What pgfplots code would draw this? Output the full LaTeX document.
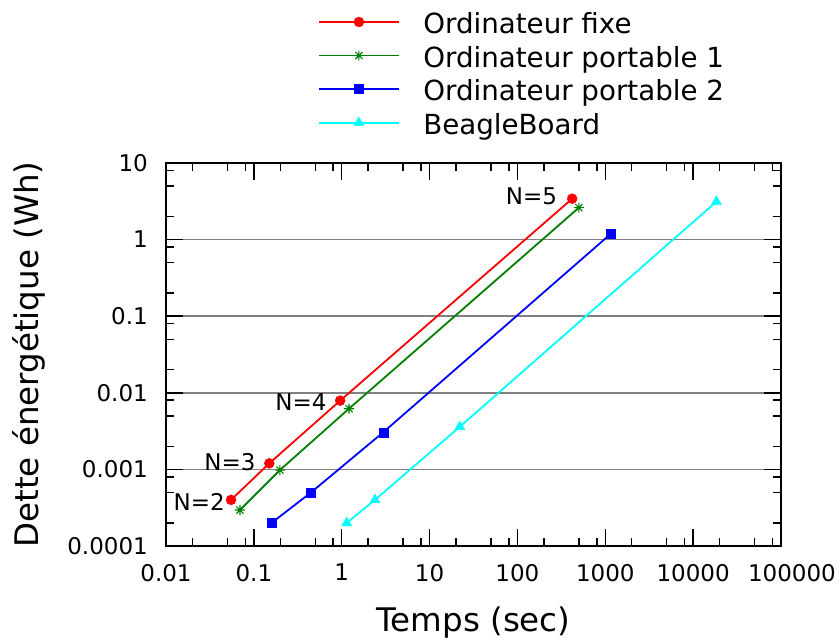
\documentclass[border=0pt]{standalone}
\usepackage{fontspec}
\setmainfont{DejaVu Sans}
\usepackage{pgfplots}
\pgfplotsset{compat=1.18}

\pgfdeclareplotmark{star8}{%
  \pgfpathmoveto{\pgfqpoint{-\pgfplotmarksize}{0pt}}%
  \pgfpathlineto{\pgfqpoint{\pgfplotmarksize}{0pt}}%
  \pgfpathmoveto{\pgfqpoint{0pt}{-\pgfplotmarksize}}%
  \pgfpathlineto{\pgfqpoint{0pt}{\pgfplotmarksize}}%
  \pgfpathmoveto{\pgfqpoint{-0.707\pgfplotmarksize}{-0.707\pgfplotmarksize}}%
  \pgfpathlineto{\pgfqpoint{0.707\pgfplotmarksize}{0.707\pgfplotmarksize}}%
  \pgfpathmoveto{\pgfqpoint{-0.707\pgfplotmarksize}{0.707\pgfplotmarksize}}%
  \pgfpathlineto{\pgfqpoint{0.707\pgfplotmarksize}{-0.707\pgfplotmarksize}}%
  \pgfusepathqstroke}

\definecolor{dgreen}{RGB}{0,128,0}
\definecolor{pred}{RGB}{255,0,0}
\definecolor{pblue}{RGB}{0,0,255}
\definecolor{pcyan}{RGB}{0,255,255}
\definecolor{pgray}{RGB}{128,128,128}

\begin{document}
\begin{tikzpicture}
\useasboundingbox (0,0) rectangle (839pt,639pt);
\begin{axis}[
  at={(166pt,93pt)}, anchor=south west,
  scale only axis, width=615pt, height=383pt,
  xmode=log, ymode=log,
  xmin=0.01, xmax=100000, ymin=0.0001, ymax=10,
  clip=false,
  /pgf/number format/assume math mode=true,
  xtick={0.01,0.1,1,10,100,1000,10000,100000},
  xticklabels={\textrm{0.01},\textrm{0.1},\textrm{1},\textrm{10},\textrm{100},\textrm{1000},\textrm{10000},\textrm{\hspace*{22pt}100000}},
  ytick={0.0001,0.001,0.01,0.1,1,10},
  yticklabels={\textrm{0.0001},\textrm{0.001},\textrm{0.01},\textrm{0.1},\textrm{1},\textrm{10}},
  minor xtick={0.02,0.05,0.08,0.2,0.5,0.8,2,5,8,20,50,80,200,500,800,2000,5000,8000,20000,50000,80000},
  minor ytick={0.0002,0.0005,0.0008,0.002,0.005,0.008,0.02,0.05,0.08,0.2,0.5,0.8,2,5,8},
  major tick length=17pt, minor tick length=8.5pt,
  every tick/.style={black, line width=1.5pt},
  axis line style={line width=1.8pt},
  ymajorgrids, major grid style={draw=pgray, line width=1.6pt},
  tick label style={font=\fontsize{23}{27}\selectfont},
  xticklabel style={inner sep=0pt, yshift=-18pt},
  yticklabel style={inner sep=0pt, xshift=-18pt},
  label style={font=\fontsize{32.5}{38}\selectfont},
  xlabel={Temps (sec)},
  ylabel={Dette énergétique (Wh)},
  xlabel style={at={(axis description cs:0.5,0)}, anchor=base, yshift=-86pt},
  ylabel style={at={(axis description cs:-0.2070,0.5)}, anchor=base},
  legend style={at={(axis description cs:0.2472,1.412)}, anchor=north west,
    draw=none, fill=none, inner sep=0pt, outer sep=0pt,
    font=\fontsize{27.7}{33}\selectfont, row sep=0pt,
    cells={anchor=west},
    nodes={text height=24pt, text depth=1pt, inner ysep=4.3pt, inner xsep=0pt},
    /tikz/every odd column/.append style={column sep=23.5pt}},
  legend image code/.code={\draw[mark repeat=2,mark phase=2] plot coordinates {(0pt,0pt) (40pt,0pt) (80pt,0pt)};},
]
\addplot[pred, line width=1.8pt, mark=*, mark size=5pt, mark options={line width=0.4pt}]
  coordinates {(0.055,0.0004) (0.15,0.0012) (0.96,0.0079) (420,3.42)};
\addlegendentry{Ordinateur fixe}
\addplot[dgreen, line width=1.8pt, mark=star8, mark size=5pt, mark options={line width=1.1pt}]
  coordinates {(0.0695,0.000295) (0.198,0.00098) (1.21,0.0062) (500,2.61)};
\addlegendentry{Ordinateur portable 1}
\addplot[pblue, line width=1.8pt, mark=square*, mark size=4.5pt, mark options={line width=0.4pt}]
  coordinates {(0.159,0.0002) (0.447,0.0005) (2.97,0.00305) (1146,1.18)};
\addlegendentry{Ordinateur portable 2}
\addplot[pcyan, line width=1.8pt, mark=triangle*, mark size=5.8pt, mark options={line width=0.4pt}]
  coordinates {(1.14,0.0002) (2.39,0.0004) (22.1,0.0036) (18400,3.13)};
\addlegendentry{BeagleBoard}
\node[anchor=east, inner sep=0pt, font=\fontsize{23}{27}\selectfont] at (axis cs:0.0469,0.000379) {N=2};
\node[anchor=east, inner sep=0pt, font=\fontsize{23}{27}\selectfont] at (axis cs:0.105,0.00126) {N=3};
\node[anchor=east, inner sep=0pt, font=\fontsize{23}{27}\selectfont] at (axis cs:0.675,0.0075) {N=4};
\node[anchor=east, inner sep=0pt, font=\fontsize{23}{27}\selectfont] at (axis cs:284,3.63) {N=5};
\end{axis}
\end{tikzpicture}
\end{document}
